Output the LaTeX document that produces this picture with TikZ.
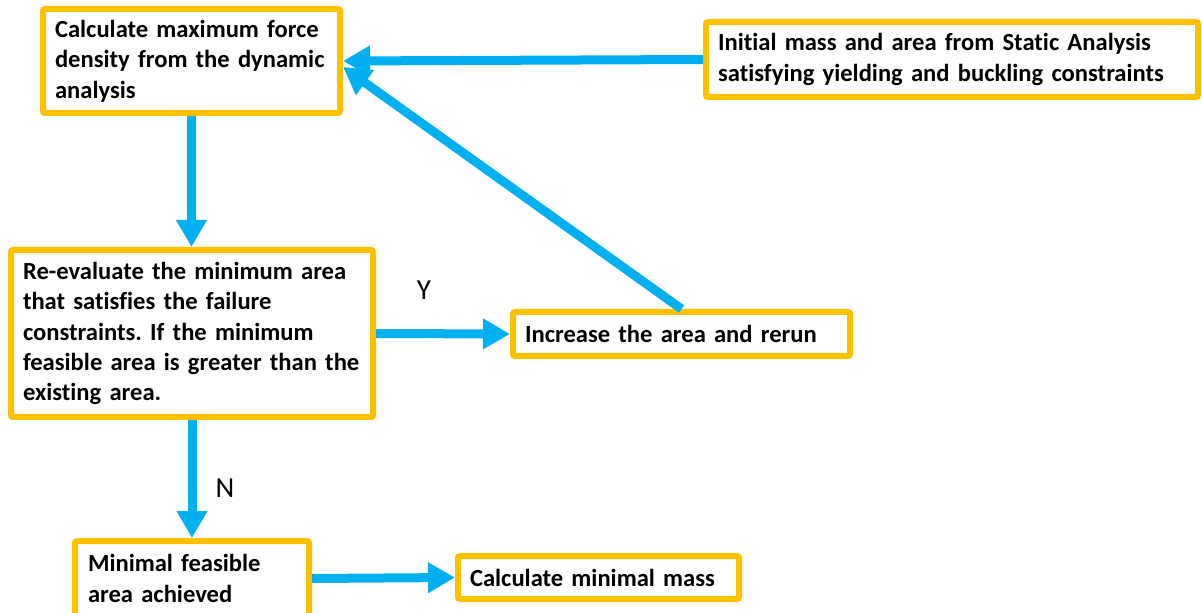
\documentclass[tikz,border=0pt]{standalone}
\usepackage{fontspec}
\setmainfont[Ligatures=NoCommon]{Carlito}
\usepackage{xcolor}
\usepackage{tikz}
\usetikzlibrary{arrows.meta}
\definecolor{boxgold}{HTML}{FFC000}
\definecolor{flowblue}{HTML}{00B0F0}
\frenchspacing

\begin{document}
\begin{tikzpicture}[x=0.5pt, y=-0.5pt,
    box/.style={draw=boxgold, line width=3pt, rounded corners=1pt, fill=white, align=left,
      inner xsep=6pt, inner ysep=0pt, font=\bfseries\fontsize{12.3}{15.2}\selectfont},
    flow/.style={draw=flowblue, line width=4.5pt, -{Triangle[length=13.5pt, width=14.5pt]}},
    lbl/.style={font=\fontsize{14.5}{17}\selectfont}]
            \useasboundingbox (0,0) rectangle (1202,613);
            \node[box, minimum width=148.5pt, minimum height=52pt, text width=136.5pt] (calc) at (191.5,61)
              {Calculate maximum force\\density from the dynamic\\analysis};
            \node[box, minimum width=246pt, minimum height=37.5pt, text width=234pt] (init) at (952,59.5)
              {Initial mass and area from Static Analysis\\satisfying yielding and buckling constraints};
            \node[box, minimum width=181pt, minimum height=83.5pt, text width=169pt] (reeval) at (192,333.5)
              {Re-evaluate the minimum area\\that satisfies the failure\\constraints. If the minimum\\feasible area is greater than the\\existing area.};
            \node[box, minimum width=168.5pt, minimum height=22pt, text width=156.5pt] (incr) at (681.5,334)
              {Increase the area and rerun};
            \node[box, minimum width=117pt, minimum height=37.5pt, text width=104pt] (minarea) at (192,578.5)
              {Minimal feasible\\area achieved};
            \node[box, minimum width=140.5pt, minimum height=21.5pt, text width=128.5pt] (mass) at (598.5,577.5)
              {Calculate minimal mass};
            \node[lbl] (yes) at (424,290) {Y};
            \node[lbl] (no) at (225,488) {N};
            \draw[flow] (init.west) -- (calc.east);
            \draw[flow] (incr.north) -- ([yshift=-3pt]calc.east);
            \draw[flow] (calc.south) -- (calc.south |- reeval.north);
            \draw[flow] (reeval.east) -- (incr.west);
            \draw[flow] (reeval.south) -- (minarea.north);
            \draw[flow] (minarea.east) -- (mass.west);
          \end{tikzpicture}
\end{document}
